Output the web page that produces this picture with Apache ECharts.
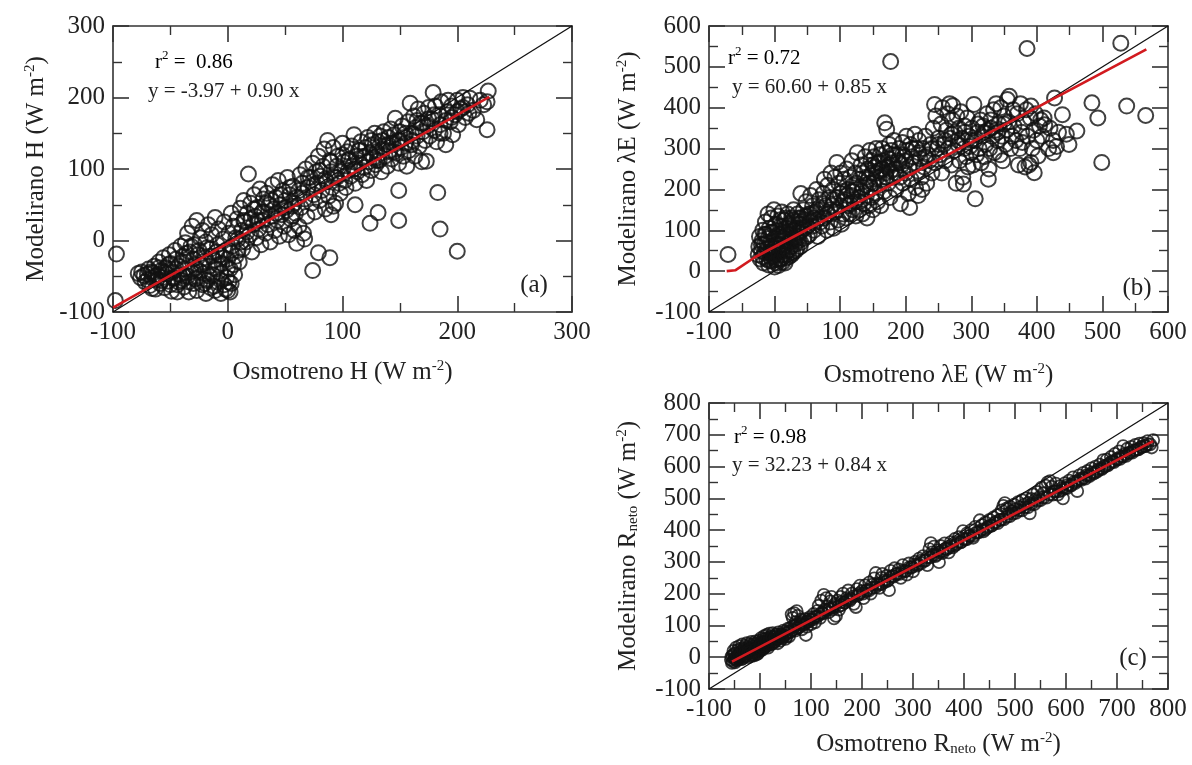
<!DOCTYPE html>
<html><head><meta charset="utf-8">
<script src="https://cdn.jsdelivr.net/npm/echarts@6/dist/echarts.min.js"></script>
<style>html,body{margin:0;padding:0;background:#fff}#c{width:1192px;height:765px}</style>
</head><body><div id="c"></div>
<script>
// ---------- DATA ----------
// Panel (a): sensible heat H, [observed, modelled]
const pointsH = [
[-97,-19],[-98,-84],
[-78,-46],[-76,-52],[-75,-44],[-73,-49],[-72,-58],[-70,-47],[-69,-40],[-68,-63],[-66,-52],[-66,-67],[-65,-45],[-64,-36],[-63,-68],[-62,-55],[-61,-48],[-60,-30],[-59,-60],[-58,-42],[-57,-52],[-56,-24],[-55,-66],[-54,-38],[-53,-47],[-52,-57],[-51,-20],[-50,-32],[-49,-71],[-48,-44],[-47,-53],[-46,-14],[-45,-26],[-44,-62],[-44,-72],[-43,-36],[-42,-48],[-41,-8],[-40,-56],
[-39,-22],[-38,-40],[-38,-65],[-37,-3],[-36,-30],[-35,-50],[-35,10],[-34,-72],[-33,-16],[-32,-44],[-31,20],[-30,-60],[-30,-26],[-29,-6],[-28,-38],[-27,-70],[-27,28],[-26,-52],[-25,-14],[-24,4],[-23,-34],[-22,-62],[-22,14],[-21,-46],[-20,-24],[-19,-74],[-19,-2],[-18,-56],[-17,22],[-16,-36],[-15,-66],[-15,-12],[-14,8],[-13,-48],[-12,-28],[-11,-70],[-11,32],[-10,-40],[-9,-58],[-9,-6],[-8,16],[-7,-20],[-6,-74],[-6,-46],[-5,-32],[-4,2],[-3,-62],[-3,26],[-2,-14],[-1,-52],[0,-70],[0,-26],[1,10],[2,-40],[3,-60],[3,38],[4,-8],[5,20],[2,-72],
[-70,-55],[-67,-44],[-63,-50],[-60,-38],[-58,-56],[-55,-44],[-52,-34],[-50,-62],[-48,-52],[-45,-40],[-43,-58],[-40,-30],[-38,-50],[-36,-18],[-34,-58],[-32,-8],[-30,-42],[-28,-54],[-26,-20],[-24,-44],[-22,-30],[-20,-60],[-18,-10],[-16,-50],[-14,-22],[-12,-64],[-10,-16],[-8,-34],[-6,-56],[-4,-24],[-2,-68],[0,-38],[1,-58],[3,-18],[5,-34],[7,4],[9,-14],[12,-2],[14,28],[17,12],[20,30],[23,44],[26,28],[30,40],[34,52],[38,56],[42,38],[46,64],[50,46],[54,74],[58,52],
[6,-48],[7,-22],[8,30],[9,2],[10,-30],[11,45],[12,14],[13,-12],[14,56],[15,26],[16,-2],[17,38],[18,93],[19,8],[20,52],[21,-16],[22,22],[23,64],[24,34],[25,4],[26,46],[27,16],[28,72],[29,-6],[30,28],[31,58],[32,40],[33,10],[34,66],[35,22],[36,50],[37,-2],[38,34],[39,78],[40,44],[41,14],[42,60],[43,28],[44,84],[45,6],[46,50],[47,36],[48,70],[49,20],[50,56],[51,42],[52,88],[53,8],[54,64],[55,30],[56,48],[57,76],[58,14],[59,38],[60,60],[60,-4],[62,20],[66,10],[67,2],[56,34],
[62,70],[63,92],[64,46],[65,80],[67,58],[68,100],[69,34],[70,74],[72,88],[73,52],[74,108],[75,64],[76,40],[77,96],[78,80],[79,118],[80,56],[81,90],[82,70],[83,104],[84,128],[85,44],[86,82],[87,140],[88,62],[89,112],[90,96],[90,36],[91,74],[92,130],[92,48],[93,88],[94,52],[95,104],[96,118],[97,80],[98,66],[99,96],[100,136],[101,110],[102,84],[103,74],[104,124],[105,98],[106,114],[107,90],[108,132],[109,104],[110,148],[111,80],[112,118],[113,96],[114,126],[115,108],[116,138],[117,92],[118,116],[119,102],[120,130],[121,84],[122,144],[123,110],[124,122],[125,98],[126,134],[127,116],[128,150],[129,106],[130,124],
[65,66],[70,88],[75,78],[80,98],[85,86],[90,110],[95,88],[100,120],[105,112],[110,100],[115,126],[120,118],[125,140],[130,112],[135,140],[140,134],[145,124],[150,140],[155,150],[160,134],[165,168],[170,164],[175,170],[180,176],[185,150],[190,168],[195,172],[200,180],[205,186],[210,178],
[131,138],[132,112],[133,146],[134,96],[135,128],[136,152],[137,118],[138,134],[139,104],[140,144],[141,126],[142,156],[143,114],[144,136],[145,148],[146,171],[147,122],[148,140],[149,108],[150,152],[151,130],[152,160],[153,118],[154,144],[155,136],[156,104],[157,166],[158,126],[159,192],[160,150],[161,140],[162,174],[163,118],[164,158],[165,146],[166,184],[167,132],[168,164],[169,110],[170,152],[171,178],[172,140],[173,111],[174,160],[175,186],[176,146],[178,170],[179,207],[180,154],[181,188],[182,138],[184,176],[185,162],[186,194],[188,150],[190,134],[191,180],[192,196],[194,166],[195,188],[196,148],[198,176],[200,196],[201,162],[203,184],[205,200],[207,172],[209,190],[211,199],[214,182],[217,169],[220,196],[223,190],[226,155],[226,194],[227,209],
[183,67],[185,16],[200,-15],[149,28],[149,70],[131,39],[124,24],[111,50],[74,-42],[89,-24],[79,-17]
];
// Panel (b): latent heat λE
const pointsLE = [
[-71,41],
[-25,40],[-24,60],[-23,85],[-22,30],[-20,50],[-19,75],[-18,100],[-17,20],[-16,65],[-15,45],[-14,120],[-13,90],[-12,30],[-11,55],[-10,140],[-10,80],[-9,15],[-8,105],[-7,45],[-6,70],[-5,130],[-4,25],[-3,95],[-2,55],[-1,150],[0,10],[0,80],[1,40],[2,115],[3,65],[4,20],[5,135],[6,90],[7,50],[8,30],[9,110],[10,75],[11,145],[12,40],[13,95],[14,60],[15,125],[16,20],[17,85],[18,105],[19,50],[20,140],[21,70],[22,35],[23,115],[24,90],[25,60],[26,130],[27,80],[28,45],[29,150],[30,100],[31,65],[32,120],[33,85],[34,55],[35,140],[36,95],[37,75],[38,115],[39,60],[40,190],[40,130],[2,28],[6,14],[12,22],[-6,34],[18,32],
[-20,65],[-18,35],[-15,90],[-12,70],[-10,45],[-8,25],[-6,95],[-4,60],[-2,35],[0,110],[1,55],[3,30],[4,85],[6,45],[8,125],[9,65],[10,30],[12,100],[13,55],[15,80],[16,40],[18,130],[19,90],[21,50],[22,110],[24,70],[26,40],[27,100],[28,125],[30,75],[32,50],[33,105],[35,80],[37,130],[38,95],[40,70],[42,120],[45,105],[48,135],[50,85],[55,140],[58,110],[60,130],[65,150],[70,120],[75,165],[80,140],[85,150],[90,175],[95,150],[100,190],[105,170],[110,185],[115,165],[120,195],[125,215],[130,170],[135,205],[140,230],[145,215],[150,260],[155,240],[160,265],[165,250],[170,230],[175,260],[180,285],[185,240],[190,265],[195,285],[200,270],[210,300],[220,290],[230,280],[240,300],[250,310],[260,320],[270,335],[280,320],[290,340],[300,320],[310,360],[320,340],[330,350],[340,340],[350,360],
[42,100],[44,150],[45,80],[46,125],[48,170],[50,110],[52,140],[53,90],[55,185],[56,120],[58,160],[60,100],[62,145],[64,200],[65,125],[66,85],[68,175],[70,150],[72,110],[74,190],[75,130],[76,225],[78,160],[80,100],[81,210],[82,140],[84,180],[85,120],[86,240],[88,160],[89,200],[90,105],[92,230],[93,145],[95,266],[96,180],[97,125],[98,215],[100,160],[101,240],[102,115],[104,195],[105,140],[106,225],[108,175],[109,130],[110,250],[112,200],[113,160],[114,140],[115,230],[117,185],[118,270],[119,150],[120,210],[122,170],[123,240],[124,135],[125,200],[126,290],[128,180],[129,150],[130,225],[132,260],[133,195],[134,140],[135,240],[136,165],[138,280],[139,210],[140,185],[141,130],[142,250],[143,225],[144,160],[145,295],[146,205],[147,270],[148,180],[149,240],[150,150],
[151,215],[152,280],[153,255],[154,190],[155,300],[156,230],[157,170],[158,265],[159,245],[160,210],[161,285],[162,160],[163,250],[164,300],[165,225],[166,270],[167,195],[168,363],[169,240],[170,290],[171,347],[172,255],[173,215],[174,275],[175,310],[176,180],[177,245],[178,295],[180,265],[181,230],[182,320],[184,250],[185,200],[186,285],[188,270],[190,300],[191,230],[192,165],[194,260],[195,315],[196,215],[198,280],[200,240],[201,330],[202,295],[204,190],[205,255],[206,156],[207,310],[208,225],[210,280],[212,265],[214,335],[215,205],[216,300],[218,245],[219,185],[220,320],[222,275],[224,230],[225,200],[226,300],[228,255],[230,330],[232,215],[234,285],[236,270],[238,310],[240,240],[242,350],[244,408],[245,265],[246,380],[248,300],[250,325],
[252,285],[254,360],[255,240],[256,400],[258,310],[260,270],[262,345],[264,385],[265,300],[267,410],[268,325],[270,260],[271,370],[272,405],[274,295],[275,340],[277,215],[278,380],[280,310],[281,350],[282,270],[284,390],[286,325],[287,230],[288,213],[289,300],[290,355],[292,280],[294,375],[295,255],[296,330],[298,305],[300,290],[301,350],[303,260],[304,408],[305,320],[306,177],[308,285],[310,340],[312,300],[314,370],[315,265],[316,330],[318,355],[320,280],[322,310],[324,385],[325,345],[326,225],[327,250],[328,300],[330,370],[332,330],[334,395],[335,290],[337,345],[338,410],[340,320],[342,360],[344,285],[345,400],[347,330],[348,270],[350,380],[352,310],[354,345],[355,420],[357,365],[358,428],[360,300],[362,330],[364,395],[365,355],[368,320],[370,385],[372,260],[374,300],[375,410],[377,340],[378,315],[380,365],[382,255],[384,395],[385,545],[386,330],[388,260],[390,375],[391,404],[391,266],[393,300],[395,345],[396,241],[398,385],[400,320],[402,282],[404,355],[406,370],[408,330],[411,375],
[177,513],[528,558],[537,404],[566,381],[484,412],[493,375],[499,266],[427,424],[439,383],[425,290],[445,335],[461,343],[449,310],[420,350],[425,320],[433,340],[412,358],[418,300],[430,305]
];
// Panel (c): net radiation R_neto
const pointsRn = [
[-57,-8],[-55,-18],[-54,5],[-53,-12],[-52,20],[-50,-4],[-49,-16],[-48,12],[-47,30],[-46,0],[-45,-10],[-44,22],[-43,8],[-42,-6],[-41,35],[-40,14],[-39,-2],[-38,26],[-37,4],[-36,18],[-35,40],[-34,-4],[-33,10],[-32,28],[-31,16],[-30,2],[-29,36],[-28,20],[-27,8],[-26,44],[-25,26],[-24,12],[-23,32],[-22,0],[-21,18],[-20,40],[-19,28],[-18,8],[-17,48],[-16,22],[-15,34],[-14,14],[-13,42],[-12,26],[-11,6],[-10,36],[-9,50],[-8,18],[-7,30],[-6,44],[-5,22],[-4,12],[-3,38],[-2,52],[-1,28],[0,20],[1,40],[2,60],[3,32],[4,46],[5,24],[6,56],[7,38],[8,66],[9,30],[10,48],[11,58],[12,36],[13,70],[14,44],[15,52],[16,30],[17,62],[18,74],[19,46],[20,56],[21,40],[22,66],[24,52],[25,76],[26,44],[28,62],[30,50],[31,70],[33,58],[35,44],[36,78],[38,64],[40,52],[42,72],[44,60],[46,84],[48,68],[50,58],[52,76],[55,90],[57,66],[60,80],
[-56,2],[-51,10],[-48,-8],[-44,-2],[-40,4],[-36,-6],[-33,24],[-29,14],[-26,4],[-23,20],[-19,16],[-16,4],[-12,14],[-9,24],[-6,10],[-3,22],[0,36],[3,48],[6,30],[9,44],[12,50],[15,40],[18,56],[21,52],[24,62],[27,54],[30,64],[33,72],[36,60],[40,70],[44,66],[48,80],[52,66],[56,80],[60,92],[64,86],[68,98],[72,100],[76,94],[80,106],[84,110],[88,104],[92,112],[96,120],[100,118],[106,126],[112,128],[118,136],[124,138],[130,148],[136,152],[142,150],[148,162],[154,160],[160,174],[166,172],[172,180],[178,184],[184,192],[190,194],[196,202],[202,200],[208,208],[214,210],[220,218],[226,220],[232,228],[238,230],[244,242],[250,242],[256,252],[262,254],[268,262],[274,262],[280,272],[286,272],[292,282],[298,284],[304,292],[310,292],[316,304],[322,304],[328,314],[334,314],[340,322],[346,322],[352,330],[358,334],[364,342],[370,344],[376,352],[382,352],[388,362],[394,362],[400,372],[406,372],[412,382],[418,382],[424,392],[430,394],[436,402],[442,402],[448,412],[454,414],[460,422],[466,422],[472,432],[478,434],[484,442],[490,444],[496,452],[502,454],[508,462],[514,462],[520,472],[526,472],[532,482],[538,482],[544,492],[550,494],[556,502],[562,502],[568,512],[574,512],[580,522],[586,522],[592,532],[598,532],[604,542],[610,542],[616,552],[622,554],[628,562],[634,564],[640,572],[646,574],[652,582],[658,582],[664,592],[670,594],[676,602],[682,604],[688,614],[694,614],[700,622],[706,624],[712,632],[718,634],[724,642],[730,644],[736,652],[742,654],[748,662],[754,664],[760,670],
[62,135],[64,124],[66,98],[67,139],[69,84],[70,110],[72,145],[74,130],[75,92],[78,104],[80,118],[82,88],[85,102],[88,120],[90,70],[92,96],[95,112],[98,126],[100,104],[103,118],[105,136],[108,110],[110,128],[113,146],[115,162],[118,124],[120,178],[122,140],[125,196],[127,150],[130,186],[132,160],[135,142],[138,176],[140,190],[142,156],[145,122],[147,168],[149,130],[152,178],[155,150],[158,190],[160,164],[163,200],[166,172],[170,186],[173,210],[176,178],[180,200],[184,168],[188,158],[190,214],[193,196],[196,225],[200,208],[203,186],[206,226],[210,212],[214,235],[217,200],[220,228],[224,248],[227,265],[230,232],[234,218],[238,250],[240,262],[244,236],[248,256],[250,240],[253,211],[256,272],[260,256],[264,280],[268,262],[272,276],[276,250],[280,290],[284,270],[288,260],[292,295],[296,282],[300,270],[304,300],[308,288],[312,310],[316,296],[320,318],[324,304],[328,290],[332,340],[335,359],[338,330],[341,348],[344,318],[348,336],[351,299],[354,350],[358,328],[362,358],[366,340],[370,330],[374,362],[378,346],[382,372],[386,356],[390,378],[394,362],[398,397],[402,370],[406,390],[410,382],[414,400],[418,376],[422,410],[426,392],[431,431],[435,416],[438,396],[442,424],[446,408],[450,432],[454,414],[458,440],[462,426],[466,448],[470,432],[474,462],[477,476],[480,485],[484,468],[487,452],[490,474],[494,460],[498,480],[502,466],[506,488],[510,472],[514,494],[518,480],[522,500],[526,486],[529,453],[532,498],[536,512],[540,496],[544,520],[548,504],[552,534],[556,516],[560,540],[564,550],[569,554],[572,536],[576,522],[580,546],[584,512],[588,538],[592,526],[594,500],[598,548],[602,532],[606,556],[610,540],[614,566],[618,548],[622,523],[626,572],[630,558],[634,580],[638,562],[642,586],[646,570],[650,594],[654,578],[658,600],[662,586],[666,606],[670,592],[673,620],[676,600],[680,622],[684,608],[688,630],[692,616],[696,640],[700,624],[704,648],[708,632],[712,664],[716,640],[720,656],[724,644],[728,662],[732,650],[736,668],[740,654],[744,672],[748,660],[752,674],[756,664],[760,680],[765,670],[771,683],[768,660]
];
// 1:1 reference lines and fitted regression lines (end points)
const oneToOneH = [[-100,-100],[300,300]];
const oneToOneLE = [[-100,-100],[600,600]];
const oneToOneRn = [[-100,-100],[800,800]];
const fitH = [[-100,-94],[228,201]];
const fitLE = [[-73,0],[-60,2],[-30,34],[567,543]];
const fitRn = [[-55,-14],[771,680]];
// axis ranges [min, max, interval]
const rangeH = [-100, 300, 100];
const rangeLE = [-100, 600, 100];
const rangeRn = [-100, 800, 100];
// texts
const r2Texts = [' =  0.86', ' = 0.72', ' = 0.98'];
const equations = ['y = -3.97 + 0.90 x', 'y = 60.60 + 0.85 x', 'y = 32.23 + 0.84 x'];
const panelTags = ['(a)', '(b)', '(c)'];
const xTitles = ['Osmotreno H (W m{sup|-2})', 'Osmotreno λE (W m{sup|-2})', 'Osmotreno R{sub|neto} (W m{sup|-2})'];
const yTitles = ['Modelirano H (W m{sup|-2})', 'Modelirano λE (W m{sup|-2})', 'Modelirano R{sub|neto} (W m{sup|-2})'];

// ---------- CHART ----------
const FONT = "'Liberation Serif', 'Times New Roman', serif";
const INK = '#222';
const grids = [
  {left: 113, top: 26, width: 459, height: 286},
  {left: 709, top: 26, width: 459, height: 286},
  {left: 709, top: 403, width: 459, height: 286}
];
const ranges = [rangeH, rangeLE, rangeRn];
const pts = [pointsH, pointsLE, pointsRn];
const diag = [oneToOneH, oneToOneLE, oneToOneRn];
const fits = [fitH, fitLE, fitRn];
const symSizes = [15, 15, 12];
const symBorders = [2, 2, 1.8];
const xGaps = [47, 50, 42];
const yGaps = [64, 68, 68];

const titleRich = {
  sup: {fontSize: 15, fontFamily: FONT, color: INK, verticalAlign: 'top', lineHeight: 14},
  sub: {fontSize: 15, fontFamily: FONT, color: INK, verticalAlign: 'bottom', lineHeight: 12}
};
function axisBase(r, gi, pos, labels) {
  return {
    type: 'value', gridIndex: gi, position: pos,
    min: r[0], max: r[1], interval: r[2],
    axisLine: {show: true, onZero: false, lineStyle: {color: '#333', width: 1.6}},
    axisTick: {show: true, inside: true, length: 16, lineStyle: {color: '#333', width: 1.6}},
    minorTick: {show: true, splitNumber: 2, length: 9, lineStyle: {color: '#333', width: 1.4}},
    splitLine: {show: false},
    axisLabel: {show: labels, fontFamily: FONT, fontSize: 25, color: INK, margin: 8},
    nameTextStyle: {fontFamily: FONT, fontSize: 25, color: INK, lineHeight: 26, rich: titleRich}
  };
}
const xAxis = [], yAxis = [], series = [], graphic = [];
for (let i = 0; i < 3; i++) {
  const r = ranges[i];
  const xb = axisBase(r, i, 'bottom', true);
  xb.name = xTitles[i]; xb.nameLocation = 'middle'; xb.nameGap = xGaps[i];
  const xt = axisBase(r, i, 'top', false);
  const yl = axisBase(r, i, 'left', true);
  yl.name = yTitles[i]; yl.nameLocation = 'middle'; yl.nameGap = yGaps[i];
  const yr = axisBase(r, i, 'right', false);
  xAxis.push(xb, xt); yAxis.push(yl, yr);
  series.push({
    type: 'scatter', xAxisIndex: 2 * i, yAxisIndex: 2 * i, data: pts[i],
    symbol: 'circle', symbolSize: symSizes[i], z: 2,
    itemStyle: {color: 'rgba(0,0,0,0)', borderColor: '#111', borderWidth: symBorders[i]},
    emphasis: {disabled: true}, silent: true
  });
  series.push({
    type: 'line', xAxisIndex: 2 * i, yAxisIndex: 2 * i, data: diag[i], showSymbol: false, z: 3,
    lineStyle: {color: '#111', width: 1.3}, silent: true
  });
  series.push({
    type: 'line', xAxisIndex: 2 * i, yAxisIndex: 2 * i, data: fits[i], showSymbol: false, z: 4,
    lineStyle: {color: '#d21a1f', width: 2.6}, silent: true
  });
}
const annoRich = {
  m: {fontSize: 21, fontFamily: FONT, color: INK, lineHeight: 26},
  s: {fontSize: 13, fontFamily: FONT, color: INK, lineHeight: 13, verticalAlign: 'top'}
};
const r2Pos = [[155, 62], [728, 58], [734, 437]];
const eqPos = [[148, 91], [732, 87], [732, 465]];
const tagPos = [[534, 285], [1137, 288], [1133, 658]];
for (let i = 0; i < 3; i++) {
  graphic.push({type: 'text', x: r2Pos[i][0], y: r2Pos[i][1], z: 10,
    style: {text: '{m|r}{s|2}{m|' + r2Texts[i] + '}', rich: annoRich, verticalAlign: 'middle', align: 'left'}});
  graphic.push({type: 'text', x: eqPos[i][0], y: eqPos[i][1], z: 10,
    style: {text: equations[i], fontSize: 21, fontFamily: FONT, fill: INK, verticalAlign: 'middle', align: 'left'}});
  graphic.push({type: 'text', x: tagPos[i][0], y: tagPos[i][1], z: 10,
    style: {text: panelTags[i], fontSize: 25, fontFamily: FONT, fill: INK, verticalAlign: 'middle', align: 'center'}});
}
const chart = echarts.init(document.getElementById('c'), null, {renderer: 'canvas'});
chart.setOption({
  animation: false, backgroundColor: '#fff',
  grid: grids, xAxis, yAxis, series, graphic
});
</script></body></html>
